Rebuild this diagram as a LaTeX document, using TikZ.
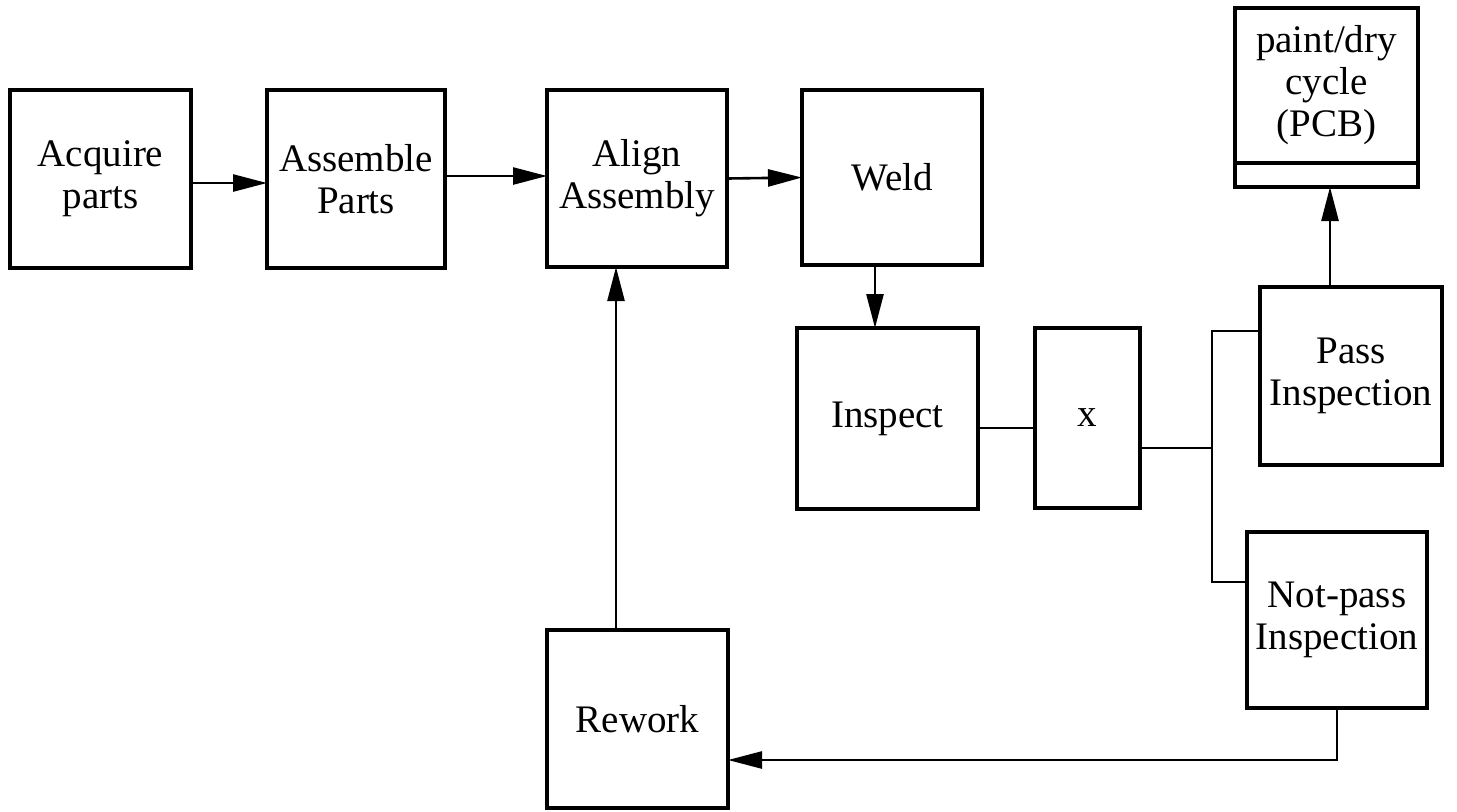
\documentclass[tikz,border=0pt]{standalone}
\usepackage{fontspec}
\setmainfont{Liberation Serif}
\usetikzlibrary{positioning,arrows.meta}
\tikzstyle{flowchart} = [x = 0.5pt, y = -0.5pt]
\tikzstyle{stageStyle} = [draw, line width = 1.6pt, inner sep = 0pt, outer sep = 0pt, align = center, anchor = north west, font = \fontsize{19.5}{21}\selectfont]
\tikzstyle{flowLine} = [line width = 1.3pt]
\tikzstyle{flowArrow} = [flowLine, -{Triangle[length = 17pt, width = 8.5pt]}]
\newcommand{\stageBox}[6]{\node [stageStyle, minimum width = {(#4 - #2) * 0.5pt}, minimum height = {(#5 - #3) * 0.5pt}] (#1) at (#2, #3) {#6};}

\begin{document}
\begin{tikzpicture}[flowchart]
    \useasboundingbox (0,0) rectangle (1457,811);
    % top row
    \stageBox{acquire}{10}{90}{191}{268}{Acquire\\parts}
    \stageBox{assemble}{267}{90}{445}{268}{Assemble\\Parts}
    \stageBox{align}{547}{90}{727}{267}{Align\\Assembly}
    \stageBox{weld}{802}{90}{982}{265}{Weld}
    \stageBox{paint}{1235}{8}{1418}{163}{paint/dry\\cycle\\(PCB)}
    \stageBox{paintBase}{1235}{163}{1418}{187}{}
    % inspection
    \stageBox{inspect}{797}{328}{978}{509}{Inspect}
    \stageBox{xbox}{1035}{328}{1140}{508}{x}
    \stageBox{pass}{1260}{287}{1442}{465}{Pass\\Inspection}
    \stageBox{notpass}{1247}{532}{1427}{708}{Not-pass\\Inspection}
    \stageBox{rework}{547}{630}{728}{808}{Rework}
    \coordinate (fork) at (1212,448);
    % connectors
    \draw [flowArrow] ([yshift = -2pt]acquire.east) -- ([yshift = -2pt]acquire.east -| assemble.west);
    \draw [flowArrow] ([yshift = 1.5pt]assemble.east) -- ([yshift = 1.5pt]assemble.east -| align.west);
    \draw [flowArrow] (align.east) -- (weld.west);
    \draw [flowArrow] ([xshift = -8.5pt]weld.south) -- ([xshift = -8.5pt]weld.south |- inspect.north);
    \draw [flowLine] ([yshift = -4.75pt]inspect.east) -- ([yshift = -4.75pt]inspect.east -| xbox.west);
    \draw [flowLine] (xbox.east |- fork) -- (fork);
    \draw [flowLine] ([yshift = 22.5pt]pass.west) -| (fork) |- ([yshift = 19pt]notpass.west);
    \draw [flowArrow] ([xshift = -10.5pt]pass.north) -- ([xshift = -10.5pt]pass.north |- paintBase.south);
    \draw [flowArrow] (notpass.south) |- ([yshift = -20.5pt]rework.east);
    \draw [flowArrow] ([xshift = -10.75pt]rework.north) -- ([xshift = -10.75pt]rework.north |- align.south);
\end{tikzpicture}
\end{document}
